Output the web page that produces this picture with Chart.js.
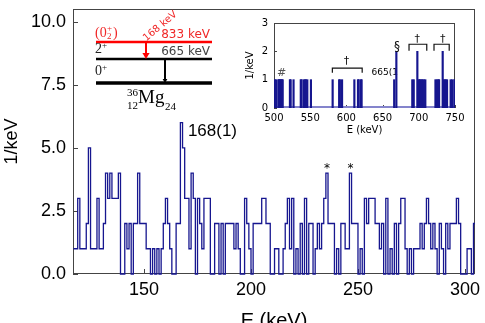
<!DOCTYPE html>
<html>
<head>
<meta charset="utf-8">
<script src="https://cdn.jsdelivr.net/npm/chart.js@4.4.0/dist/chart.umd.min.js"></script>
<style>
  html, body { margin: 0; padding: 0; background: #fff; overflow: hidden; }
  #wrap { position: relative; width: 485px; height: 323px; overflow: hidden; }
  #main { position: absolute; left: 0; top: 0; }
  #inset { position: absolute; left: 236px; top: 12px; }
</style>
</head>
<body>
<div id="wrap">
  <canvas id="main" width="485" height="335"></canvas>
  <canvas id="inset" width="240" height="128"></canvas>
</div>
<script>
// main spectrum: 1 keV bins, first bin starts at 117 keV
const firstBin = 117;
const binWidth = 1;
const counts = [
  1, 1, 3, 1, 1, 1, 2, 5, 1, 1, 1, 3, 1, 1, 2, 4, 3, 4, 3, 3,   // 117-136
  3, 4, 0, 0, 2, 1, 2, 0, 2, 2, 4, 2, 2, 2, 1, 1, 0, 1, 0, 1,   // 137-156
  0, 1, 2, 3, 2, 1, 0, 0, 2, 2, 6, 5, 3, 3, 1, 4, 3, 0, 3, 2,   // 157-176
  1, 3, 3, 3, 0, 0, 2, 2, 0, 2, 0, 2, 2, 2, 2, 1, 2, 1, 0, 0,   // 177-196
  3, 2, 1, 0, 2, 2, 2, 2, 3, 3, 2, 2, 0, 0, 1, 1, 0, 0, 1, 2,   // 197-216
  3, 1, 3, 0, 1, 0, 2, 0, 3, 0, 2, 2, 0, 1, 2, 1, 2, 3, 4, 2,   // 217-236
  2, 2, 0, 1, 0, 2, 2, 1, 1, 4, 2, 2, 2, 0, 1, 0, 3, 2, 3, 3,   // 237-256
  3, 2, 2, 1, 2, 0, 3, 0, 1, 0, 2, 0, 2, 3, 3, 1, 0, 1, 0, 1,   // 257-276
  1, 1, 2, 1, 2, 3, 2, 1, 2, 1, 0, 2, 1, 0, 2, 1, 2, 2, 2, 3,   // 277-296
  2, 0, 0, 0, 1, 1, 0, 2                                        // 297-304
];
const xTicks = [150, 200, 250, 300];
const yTicks = [0, 2.5, 5, 7.5, 10];

// inset 500-750 keV: only the non-empty bins
const insetEnergies = [501, 503, 506, 507, 508, 509, 510, 511, 512, 522, 523, 527,
  537, 538, 541, 543, 544, 546, 551, 581, 590, 591, 594, 611, 616, 617, 620, 621,
  666, 669, 691, 693, 698, 700, 701, 702, 704, 705, 707, 709,
  723, 725, 727, 728, 733, 734, 736, 737, 739, 744, 746, 749];
const insetCounts = [1, 1, 1, 1, 1, 1, 1, 1, 1, 1, 1, 1,
  1, 1, 1, 1, 1, 1, 1, 1, 1, 1, 1, 1, 1, 1, 1, 1,
  1, 2, 1, 1, 2, 1, 1, 1, 1, 1, 1, 1,
  1, 1, 1, 1, 2, 1, 1, 1, 1, 1, 1, 1];
const insetXTicks = [500, 550, 600, 650, 700, 750];
const insetYTicks = [0, 1, 2, 3];

const navy = '#16168f';
Chart.defaults.font.family = '"Liberation Sans", Arial, sans-serif';
Chart.defaults.color = '#000';

// step outline: each point is a bin's left edge, last one closes the final bin
const histPoints = counts.map((c, i) => ({ x: firstBin + i * binWidth, y: c }));
histPoints.push({ x: firstBin + counts.length * binWidth, y: counts[counts.length - 1] });

function setTicks(values) {
  return scale => { scale.ticks = values.map(v => ({ value: v })); };
}

// fixed axis size, and no extra room asked for the edge labels
function fixSize(prop, size) {
  return scale => {
    scale[prop] = size;
    scale.paddingTop = 0;
    scale.paddingBottom = 0;
    scale.paddingLeft = 0;
    scale.paddingRight = 0;
  };
}

// box around the axes with inward ticks on left and bottom
function framePlugin(color, tickLen) {
  return {
    id: 'frame',
    beforeDatasetsDraw(chart) {
      const { ctx, chartArea: a, scales: { x, y } } = chart;
      ctx.save();
      ctx.strokeStyle = color;
      ctx.lineWidth = 1;
      ctx.strokeRect(a.left + 0.5, a.top + 0.5, a.right - a.left - 1, a.bottom - a.top - 1);
      ctx.beginPath();
      x.ticks.forEach(t => {
        const px = Math.round(x.getPixelForValue(t.value)) + 0.5;
        ctx.moveTo(px, a.bottom);
        ctx.lineTo(px, a.bottom - tickLen);
      });
      y.ticks.forEach(t => {
        const py = Math.round(y.getPixelForValue(t.value)) + 0.5;
        ctx.moveTo(a.left, py);
        ctx.lineTo(a.left + tickLen, py);
      });
      ctx.stroke();
      ctx.restore();
    }
  };
}

function arrow(ctx, x, y0, y1, color, width, head) {
  ctx.strokeStyle = color;
  ctx.fillStyle = color;
  ctx.lineWidth = width;
  ctx.beginPath();
  ctx.moveTo(x, y0);
  ctx.lineTo(x, y1 - head + 1);
  ctx.stroke();
  ctx.beginPath();
  ctx.moveTo(x - head * 0.6, y1 - head);
  ctx.lineTo(x + head * 0.6, y1 - head);
  ctx.lineTo(x, y1);
  ctx.closePath();
  ctx.fill();
}

// the little level scheme in the upper left corner
function drawLevelScheme(ctx) {
  ctx.save();
  const level = (y, w, c) => {
    ctx.strokeStyle = c;
    ctx.lineWidth = w;
    ctx.beginPath();
    ctx.moveTo(96, y);
    ctx.lineTo(212, y);
    ctx.stroke();
  };
  level(42, 2.5, '#ff0000');
  level(59, 2.5, '#000');
  level(83, 3.5, '#000');
  arrow(ctx, 146, 43, 59, '#ff0000', 2, 6);
  arrow(ctx, 165, 60, 83, '#000', 2, 4);

  const serif = '"Liberation Serif", "DejaVu Serif", serif';
  const sans = '"DejaVu Sans", sans-serif';
  ctx.textBaseline = 'alphabetic';
  ctx.textAlign = 'left';

  ctx.fillStyle = '#f02828';
  ctx.font = '14px ' + serif;
  ctx.fillText('(0', 95, 37);
  ctx.fillText(')', 113, 37);
  ctx.font = '9px ' + serif;
  ctx.fillText('+', 107, 31);
  ctx.fillText('2', 107, 39);

  ctx.font = '12px ' + sans;
  ctx.textAlign = 'right';
  ctx.fillText('833 keV', 210, 38);
  ctx.save();
  ctx.translate(160, 26);
  ctx.rotate(-40 * Math.PI / 180);
  ctx.textAlign = 'center';
  ctx.font = '10px ' + sans;
  ctx.fillText('168 keV', 0, 3);
  ctx.restore();

  ctx.fillStyle = '#444';
  ctx.fillText('665 keV', 210, 55);

  ctx.textAlign = 'left';
  ctx.fillStyle = '#222';
  ctx.font = '14px ' + serif;
  ctx.fillText('2', 95, 53);
  ctx.fillText('0', 95, 75);
  ctx.font = '9px ' + serif;
  ctx.fillText('+', 102, 48);
  ctx.fillText('+', 102, 70);

  ctx.fillStyle = '#000';
  ctx.font = '11px ' + serif;
  ctx.fillText('36', 127, 96);
  ctx.fillText('12', 127, 109);
  ctx.fillText('24', 165, 110);
  ctx.font = '19px ' + serif;
  ctx.fillText('Mg', 138, 103);
  ctx.restore();
}

const mainNotes = {
  id: 'mainNotes',
  afterDatasetsDraw(chart) {
    const { ctx, scales: { x, y } } = chart;
    ctx.save();
    ctx.fillStyle = '#000';
    ctx.textBaseline = 'middle';
    ctx.textAlign = 'left';
    ctx.font = '17px "Liberation Sans", Arial, sans-serif';
    ctx.fillText('168(1)', x.getPixelForValue(170.5), y.getPixelForValue(5.67));
    ctx.textAlign = 'center';
    ctx.font = '12px "DejaVu Sans", sans-serif';
    ctx.fillText('*', x.getPixelForValue(235.5), y.getPixelForValue(4.17));
    ctx.fillText('*', x.getPixelForValue(246.5), y.getPixelForValue(4.17));
    ctx.restore();
    drawLevelScheme(ctx);
  }
};

new Chart(document.getElementById('main'), {
  type: 'line',
  data: {
    datasets: [{
      data: histPoints,
      stepped: 'before',
      borderColor: navy,
      borderWidth: 1.3,
      pointRadius: 0,
      fill: false,
      clip: { left: 0, top: 0, right: 0, bottom: 2 }
    }]
  },
  options: {
    responsive: false,
    animation: false,
    events: [],
    layout: { padding: { left: 0, top: 9, right: 10, bottom: 0 } },
    plugins: { legend: { display: false }, tooltip: { enabled: false } },
    scales: {
      x: {
        type: 'linear',
        min: 116.8,
        max: 304.7,
        afterBuildTicks: setTicks(xTicks),
        afterFit: fixSize('height', 61),
        grid: { display: false, drawTicks: false },
        border: { display: false },
        ticks: { font: { size: 18 }, padding: 5, maxRotation: 0 },
        title: { display: true, text: 'E (keV)', font: { size: 20 }, padding: { top: 0, bottom: 2 } }
      },
      y: {
        min: 0,
        max: 10.5,
        afterBuildTicks: setTicks(yTicks),
        afterFit: fixSize('width', 73),
        grid: { display: false, drawTicks: false },
        border: { display: false },
        ticks: { font: { size: 18 }, padding: 7, callback: v => v.toFixed(1) },
        title: { display: true, text: '1/keV', font: { size: 18 }, padding: { top: 1, bottom: 0 } }
      }
    }
  },
  plugins: [framePlugin('#444', 5), mainNotes]
});

// inset annotations: brackets and markers
function bracket(ctx, x, y, e1, e2, top, foot) {
  const x1 = x.getPixelForValue(e1), x2 = x.getPixelForValue(e2);
  const yt = y.getPixelForValue(top), yf = y.getPixelForValue(foot);
  ctx.beginPath();
  ctx.moveTo(x1, yf);
  ctx.lineTo(x1, yt);
  ctx.lineTo(x2, yt);
  ctx.lineTo(x2, yf);
  ctx.stroke();
}

const insetNotes = {
  id: 'insetNotes',
  beforeDatasetsDraw(chart) {
    const { ctx, chartArea: a, scales: { x, y } } = chart;
    ctx.save();
    ctx.fillStyle = '#000';
    ctx.font = '9px "DejaVu Sans", sans-serif';
    ctx.textBaseline = 'middle';
    ctx.textAlign = 'left';
    ctx.fillText('665(1', x.getPixelForValue(634.7), y.getPixelForValue(1.24));
    // zero line of the histogram
    ctx.strokeStyle = '#8484cc';
    ctx.lineWidth = 2;
    ctx.beginPath();
    ctx.moveTo(a.left, y.getPixelForValue(0) - 1);
    ctx.lineTo(a.right, y.getPixelForValue(0) - 1);
    ctx.stroke();
    ctx.restore();
  },
  afterDatasetsDraw(chart) {
    const { ctx, scales: { x, y } } = chart;
    ctx.save();
    ctx.strokeStyle = '#111';
    ctx.lineWidth = 1.2;
    bracket(ctx, x, y, 580.6, 621.8, 1.41, 1.24);
    bracket(ctx, x, y, 686.5, 711, 2.25, 2.02);
    bracket(ctx, x, y, 721, 742, 2.25, 2.02);
    ctx.fillStyle = '#111';
    ctx.textAlign = 'center';
    ctx.textBaseline = 'middle';
    ctx.font = '11px "DejaVu Sans", sans-serif';
    ctx.fillText('\u2020', x.getPixelForValue(600), y.getPixelForValue(1.64));
    ctx.fillText('\u2020', x.getPixelForValue(698), y.getPixelForValue(2.42));
    ctx.fillText('\u2020', x.getPixelForValue(733), y.getPixelForValue(2.42));
    ctx.font = '12px "DejaVu Sans", sans-serif';
    ctx.fillText('\u00a7', x.getPixelForValue(670), y.getPixelForValue(2.14));
    ctx.fillStyle = '#555';
    ctx.font = '11px "DejaVu Sans", sans-serif';
    ctx.fillText('#', x.getPixelForValue(510.4), y.getPixelForValue(1.24));
    ctx.restore();
  }
};

new Chart(document.getElementById('inset'), {
  type: 'bar',
  data: {
    datasets: [{
      data: insetEnergies.map((e, i) => ({ x: e, y: insetCounts[i] })),
      backgroundColor: navy,
      borderWidth: 0,
      barThickness: 1.5
    }]
  },
  options: {
    responsive: false,
    animation: false,
    events: [],
    layout: { padding: { left: 0, top: 11, right: 21, bottom: 0 } },
    plugins: { legend: { display: false }, tooltip: { enabled: false } },
    scales: {
      x: {
        type: 'linear',
        min: 500,
        max: 750,
        offset: false,
        afterBuildTicks: setTicks(insetXTicks),
        afterFit: fixSize('height', 32),
        grid: { display: false, offset: false, drawTicks: false },
        border: { display: false },
        ticks: { font: { size: 10, family: '"DejaVu Sans", sans-serif' }, padding: 4, maxRotation: 0 },
        title: { display: true, text: 'E (keV)', font: { size: 10, family: '"DejaVu Sans", sans-serif' }, padding: { top: 0, bottom: 4 } }
      },
      y: {
        min: 0,
        max: 3,
        afterBuildTicks: setTicks(insetYTicks),
        afterFit: fixSize('width', 38),
        grid: { display: false, drawTicks: false },
        border: { display: false },
        ticks: { font: { size: 10, family: '"DejaVu Sans", sans-serif' }, padding: 6 },
        title: { display: true, text: '1/keV', font: { size: 10, family: '"DejaVu Sans", sans-serif' }, padding: { top: 8, bottom: 0 } }
      }
    }
  },
  plugins: [framePlugin('#444', 3), insetNotes]
});
</script>
</body>
</html>
